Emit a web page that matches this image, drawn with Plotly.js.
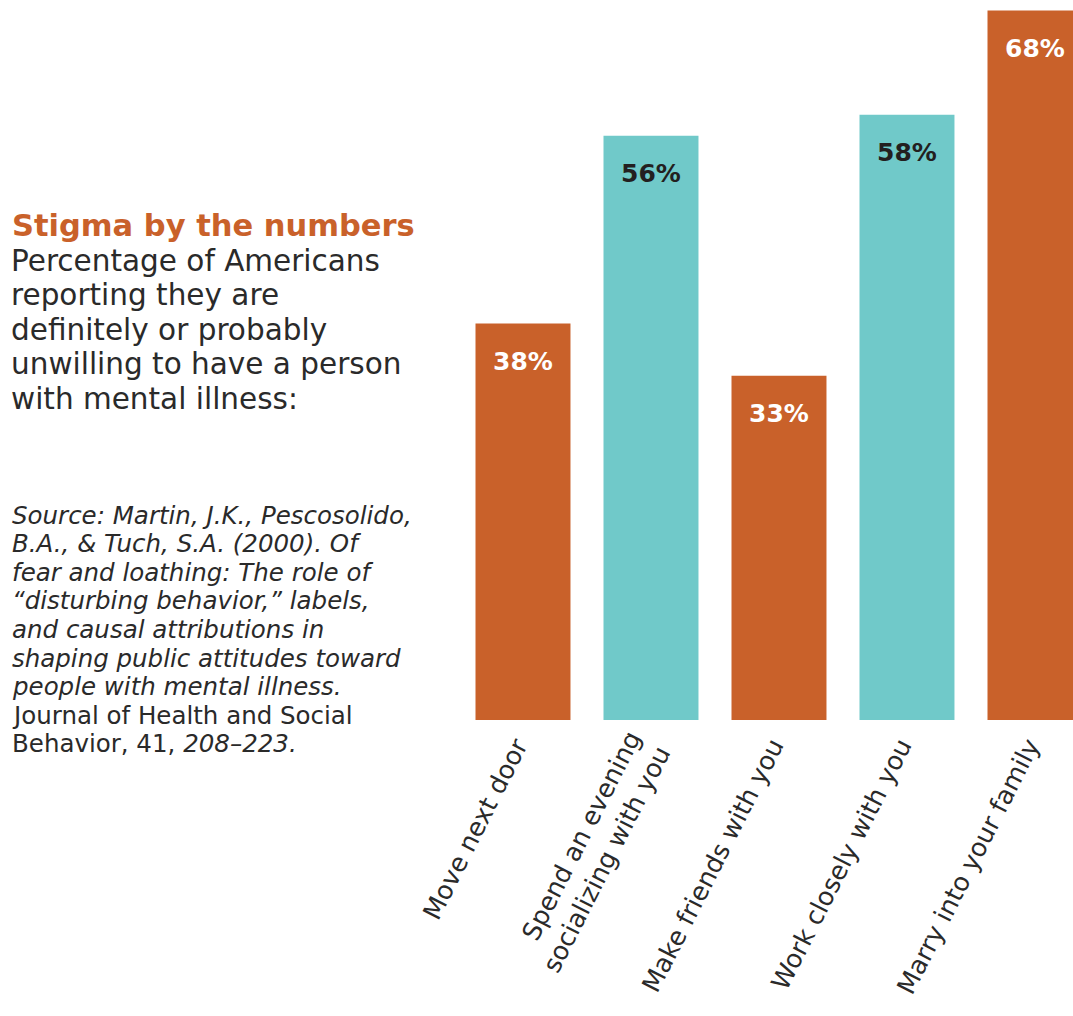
<!DOCTYPE html>
<html>
<head>
<meta charset="utf-8">
<script src="https://cdn.plot.ly/plotly-3.0.1.min.js"></script>
<style>html,body{margin:0;padding:0;background:#fff;}#chart{width:1073px;height:1016px;}</style>
</head>
<body>
<div id="chart"></div>
<script>
const categories = ["Move next door", "Spend an evening<br>socializing with you", "Make friends with you", "Work closely with you", "Marry into your family"];
const values = [38, 56, 33, 58, 68];
const valueLabels = ["38%", "56%", "33%", "58%", "68%"];
const barColors = ["#C9612A", "#70C9C9", "#C9612A", "#70C9C9", "#C9612A"];
const labelColors = ["#ffffff", "#231F20", "#ffffff", "#231F20", "#ffffff"];

const titleText = "Stigma by the numbers";
const bodyLines = ["Percentage of Americans", "reporting they are", "definitely or probably", "unwilling to have a person", "with mental illness:"];
const sourceLines = ["<i>Source: Martin, J.K., Pescosolido,</i>", "<i>B.A., &amp; Tuch, S.A. (2000). Of</i>", "<i>fear and loathing: The role of</i>", "<i>“disturbing behavior,” labels,</i>", "<i>and causal attributions in</i>", "<i>shaping public attitudes toward</i>", "<i>people with mental illness.</i>", "Journal of Health and Social", "Behavior, 41, <i>208–223.</i>"];

const W = 1073, H = 1016, L = 470, T = 0, B = 296;
const pw = W - L, ph = H - T - B;
const px = x => (x - L) / pw;
const py = y => (H - B - y) / ph;

const valueAnns = categories.map((c, i) => ({
  x: c, y: values[i], xref: 'x', yref: 'y', text: valueLabels[i], showarrow: false,
  yshift: -38, font: {family: 'DejaVu Sans', size: 25, color: labelColors[i], weight: 'bold'}
}));

const lineAnn = (text, x, y, font) => ({
  text: text, x: px(x), y: py(y), xref: 'paper', yref: 'paper', xanchor: 'left', yanchor: 'middle',
  align: 'left', showarrow: false, font: font
});

const textAnns = [lineAnn(titleText, 10, 225, {family: 'DejaVu Sans', size: 30.5, color: '#C9612A', weight: 'bold'})]
  .concat(bodyLines.map((t, i) => lineAnn(t, 9, 261 + i * 34.4, {family: 'DejaVu Sans', size: 29.5, color: '#2a2a2a'})))
  .concat(sourceLines.map((t, i) => lineAnn(t, 10, 515 + i * 28.6, {family: 'DejaVu Sans', size: 24.5, color: '#2a2a2a'})));

const bars = {
  type: 'bar', x: categories, y: values,
  marker: {color: barColors, line: {width: 0}},
  hoverinfo: 'none'
};

const layout = {
  width: W, height: H,
  margin: {l: L, r: 0, t: T, b: B, pad: 0},
  paper_bgcolor: '#ffffff', plot_bgcolor: '#ffffff',
  bargap: 0.258,
  showlegend: false,
  xaxis: {type: 'category', range: [-0.414, 4.297], showgrid: false, zeroline: false, showline: false,
          ticks: '', tickangle: -63, ticklabelstandoff: 5, ticklabelshift: -6,
          tickfont: {family: 'DejaVu Sans', size: 25.5, color: '#2a2a2a'}},
  yaxis: {range: [0, 69], showgrid: false, zeroline: false, showline: false, showticklabels: false, ticks: ''},
  annotations: valueAnns.concat(textAnns)
};

Plotly.newPlot('chart', [bars], layout, {staticPlot: true, displayModeBar: false});
</script>
</body>
</html>
